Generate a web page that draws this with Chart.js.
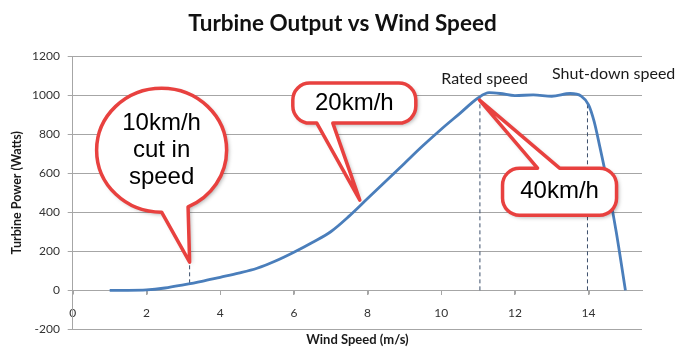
<!DOCTYPE html>
<html lang="en">
<head>
<meta charset="UTF-8">
<title>Turbine Output vs Wind Speed</title>
<script src="https://cdn.jsdelivr.net/npm/chart.js"></script>
<style>
  html, body { margin: 0; padding: 0; background: #ffffff; }
  .chart-box { position: relative; width: 685px; height: 363px; }
</style>
</head>
<body>
<div class="chart-box"><canvas id="turbineChart"></canvas></div>
<script>
// power curve
const windSpeed = [1, 1.5, 2, 2.5, 3, 3.5, 4, 4.5, 5, 5.5, 6, 6.5, 7, 7.5, 8, 8.5, 9, 9.5, 10, 10.5, 11, 11.3, 11.6, 12, 12.5, 13, 13.5, 13.8, 14, 14.15, 14.3, 14.5, 14.75, 15];
const power = [0, 0, 2, 12, 28, 46, 67, 88, 113, 150, 195, 245, 300, 380, 470, 560, 650, 740, 825, 905, 985, 1012, 1008, 997, 1001, 994, 1008, 995, 950, 865, 740, 560, 300, 0];

// dashed drop lines
const dropSpeed = [3.17, 11.05, 13.97];
const dropFrom = [36, 0, 0];
const dropTo = [144, 990, 950];

const xTickValues = [0, 2, 4, 6, 8, 10, 12, 14];
const yTickMin = -200, yTickMax = 1200, yTickStep = 200;

const speedNotes = ['Rated speed', 'Shut-down speed'];
const speedNoteAt = [[11.18, 1082], [14.68, 1108]];

const callouts = [
  { lines: ['10km/h', 'cut in', 'speed'], tip: [3.17, 144], shape: 'oval', dx: -28, dy: -112, rx: 65, ry: 62, a1: 90, a2: 66 },
  { lines: ['20km/h'], tip: [7.79, 462], shape: 'box', l: -67, r: 56, t: -117, b: -77, edge: 'bottom', ta: -43, tb: -27 },
  { lines: ['40km/h'], tip: [11.04, 974], shape: 'box', l: 23, r: 137, t: 68, b: 115, edge: 'top', ta: 58, tb: 80 }
];

const RED = '#e8413f';
const GRID = '#a6a6a6';
const FONT = 'Lato, "Open Sans", sans-serif';

function bubblePath(ctx, l, t, r, b, rad, edge, a, c, tx, ty) {
  ctx.moveTo(l + rad, t);
  if (edge === 'top') { ctx.lineTo(a, t); ctx.lineTo(tx, ty); ctx.lineTo(c, t); }
  ctx.lineTo(r - rad, t);
  ctx.arcTo(r, t, r, t + rad, rad);
  ctx.lineTo(r, b - rad);
  ctx.arcTo(r, b, r - rad, b, rad);
  if (edge === 'bottom') { ctx.lineTo(c, b); ctx.lineTo(tx, ty); ctx.lineTo(a, b); }
  ctx.lineTo(l + rad, b);
  ctx.arcTo(l, b, l, b - rad, rad);
  ctx.lineTo(l, t + rad);
  ctx.arcTo(l, t, l + rad, t, rad);
  ctx.closePath();
}

// grid lines and tick marks, taken from the scales' own ticks
const gridPlugin = {
  id: 'gridLines',
  beforeDatasetsDraw(chart) {
    const { ctx, chartArea, scales: { x, y } } = chart;
    ctx.save();
    ctx.strokeStyle = GRID;
    ctx.lineWidth = 1;
    ctx.beginPath();
    y.ticks.forEach(t => {
      const py = Math.round(y.getPixelForValue(t.value)) + 0.5;
      ctx.moveTo(chartArea.left - 5, py);
      ctx.lineTo(chartArea.right, py);
    });
    const y0 = Math.round(y.getPixelForValue(0)) + 0.5;
    x.ticks.forEach(t => {
      const px = Math.round(x.getPixelForValue(t.value)) + 0.5;
      ctx.moveTo(px, y0);
      ctx.lineTo(px, y0 + 4);
    });
    ctx.stroke();
    ctx.restore();
  }
};

const calloutPlugin = {
  id: 'callouts',
  afterDatasetsDraw(chart) {
    const { ctx, scales: { x, y } } = chart;
    ctx.save();

    ctx.font = '16px ' + FONT;
    ctx.fillStyle = '#1a1a1a';
    ctx.textAlign = 'center';
    ctx.textBaseline = 'middle';
    speedNotes.forEach((txt, i) => {
      ctx.fillText(txt, x.getPixelForValue(speedNoteAt[i][0]), y.getPixelForValue(speedNoteAt[i][1]));
    });

    callouts.forEach(c => {
      const tx = x.getPixelForValue(c.tip[0]);
      const ty = y.getPixelForValue(c.tip[1]);
      let cx, cy;
      ctx.beginPath();
      if (c.shape === 'oval') {
        cx = tx + c.dx; cy = ty + c.dy;
        ctx.ellipse(cx, cy, c.rx, c.ry, 0, c.a1 * Math.PI / 180, (c.a2 + 360) * Math.PI / 180);
        ctx.lineTo(tx, ty);
        ctx.closePath();
      } else {
        const l = tx + c.l, r = tx + c.r, t = ty + c.t, b = ty + c.b;
        cx = (l + r) / 2; cy = (t + b) / 2;
        bubblePath(ctx, l, t, r, b, 17, c.edge, tx + c.ta, tx + c.tb, tx, ty);
      }
      ctx.save();
      ctx.shadowColor = 'rgba(0,0,0,0.35)';
      ctx.shadowBlur = 4;
      ctx.shadowOffsetX = 2;
      ctx.shadowOffsetY = 2;
      ctx.fillStyle = '#ffffff';
      ctx.fill();
      ctx.restore();
      ctx.lineWidth = 3.5;
      ctx.lineJoin = 'round';
      ctx.strokeStyle = RED;
      ctx.stroke();

      ctx.font = '24px "Liberation Sans", Arial, sans-serif';
      ctx.fillStyle = '#000000';
      const lh = 27;
      c.lines.forEach((ln, k) => {
        ctx.fillText(ln, cx, cy + (k - (c.lines.length - 1) / 2) * lh);
      });
    });
    ctx.restore();
  }
};

const curve = windSpeed.map((v, i) => ({ x: v, y: power[i] }));
const drops = dropSpeed.map((v, i) => ({
  data: [{ x: v, y: dropFrom[i] }, { x: v, y: dropTo[i] }],
  borderColor: '#3c4f6b',
  borderWidth: 1,
  borderDash: [4, 3],
  pointRadius: 0,
  showLine: true,
  fill: false
}));

new Chart(document.getElementById('turbineChart'), {
  type: 'scatter',
  data: {
    datasets: [{
      label: 'Turbine Power',
      data: curve,
      showLine: true,
      borderColor: '#4a7ebb',
      borderWidth: 2.8,
      pointRadius: 0,
      cubicInterpolationMode: 'monotone',
      fill: false
    }].concat(drops)
  },
  options: {
    responsive: true,
    maintainAspectRatio: false,
    animation: false,
    layout: { padding: 0 },
    plugins: {
      legend: { display: false },
      tooltip: { enabled: false },
      title: {
        display: true,
        text: 'Turbine Output vs Wind Speed',
        color: '#111111',
        font: { family: FONT, size: 22.5, weight: 'bold' },
        padding: { top: 10, bottom: 19 }
      },
      subtitle: {
        display: true,
        position: 'bottom',
        fullSize: false,
        text: 'Wind Speed (m/s)',
        color: '#1a1a1a',
        font: { family: FONT, size: 13, weight: 'bold' },
        padding: { top: 3, bottom: 15 }
      }
    },
    scales: {
      x: {
        type: 'linear',
        position: { y: 0 },
        min: 0,
        max: 15.45,
        afterBuildTicks: (scale) => { scale.ticks = xTickValues.map(v => ({ value: v })); },
        ticks: { color: '#333333', font: { family: FONT, size: 12, lineHeight: 1.75 }, padding: 8, maxRotation: 0 },
        grid: { display: true, drawOnChartArea: false, drawTicks: true, tickLength: 4, color: GRID },
        border: { display: true, color: GRID, width: 1 }
      },
      y: {
        type: 'linear',
        min: yTickMin,
        max: yTickMax,
        ticks: {
          stepSize: yTickStep,
          color: '#333333',
          font: { family: FONT, size: 12 },
          padding: 8,
          callback: (v) => String(v)
        },
        grid: { display: true, drawOnChartArea: true, color: GRID, lineWidth: 1, tickLength: 5 },
        border: { display: true, color: GRID, width: 1 },
        title: {
          display: true,
          text: 'Turbine Power (Watts)',
          color: '#1a1a1a',
          font: { family: FONT, size: 12.5, weight: 'bold' },
          padding: { top: 9, bottom: 0 }
        }
      },
      // empty right-hand axis that only keeps room for the side labels
      yRoom: {
        type: 'linear',
        position: 'right',
        display: true,
        grid: { display: false },
        border: { display: false },
        ticks: { display: false },
        afterFit: (scale) => { scale.width = 43; }
      }
    }
  },
  plugins: [gridPlugin, calloutPlugin]
});
</script>
</body>
</html>
